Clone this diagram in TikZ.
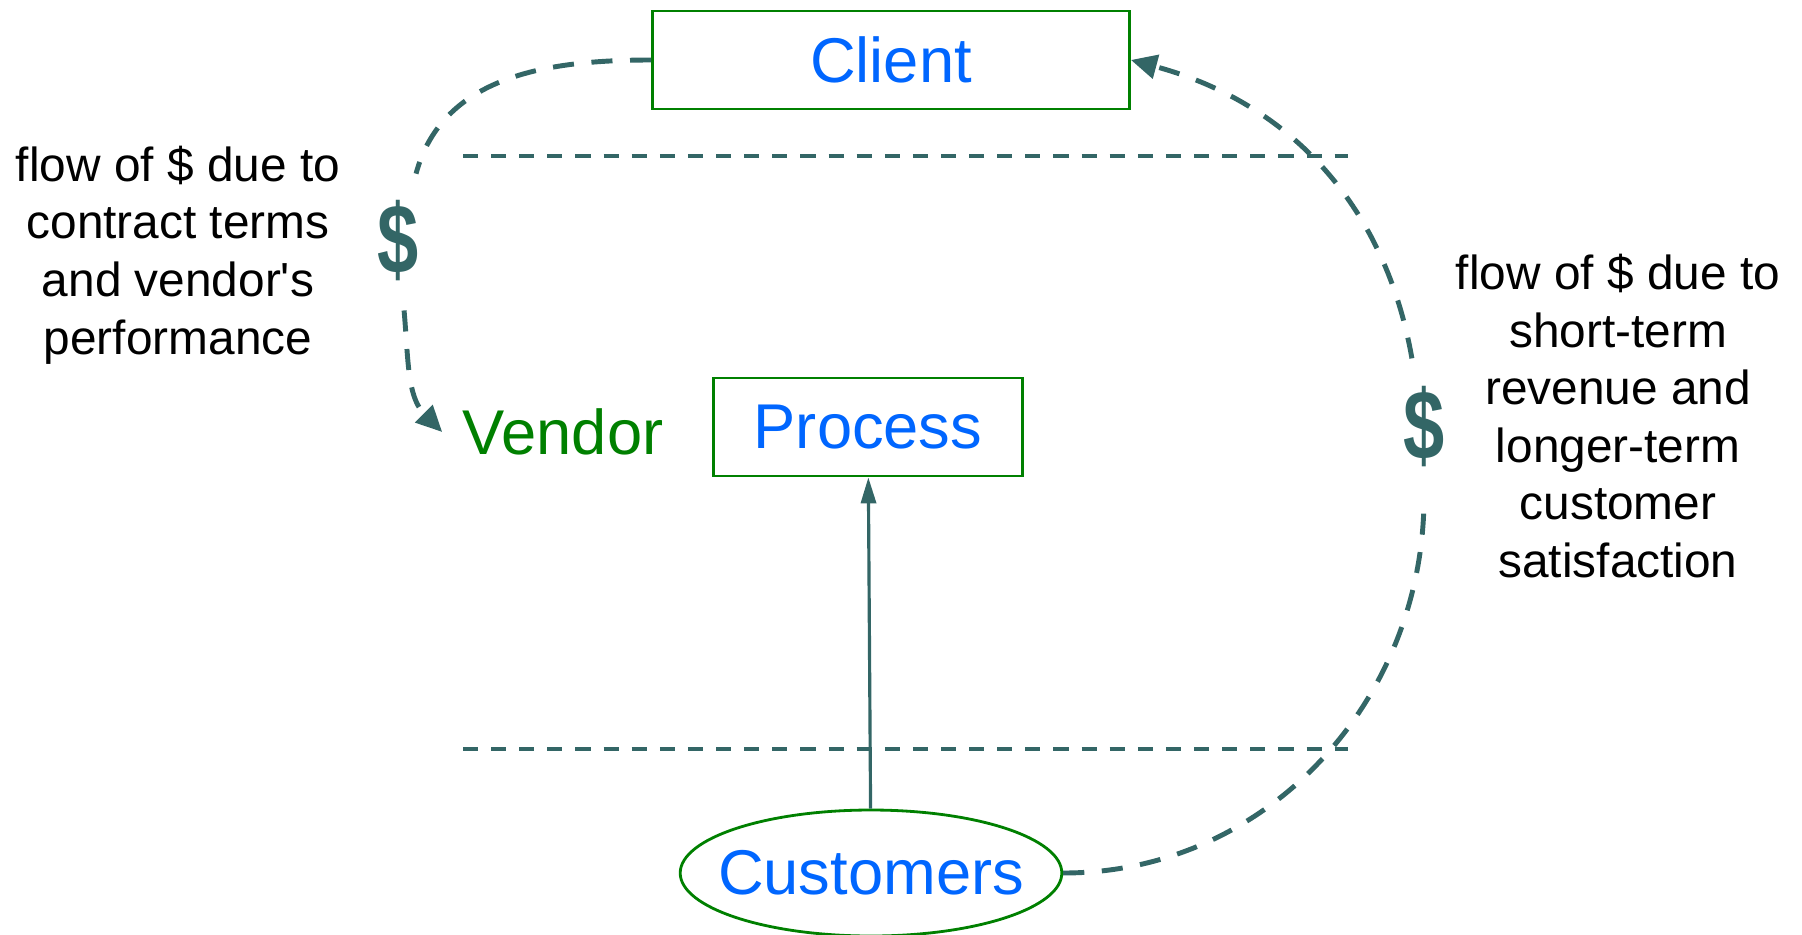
\documentclass[tikz,border=0pt]{standalone}
\usepackage{fontspec}
\setmainfont{Liberation Sans}
\usetikzlibrary{positioning,shapes.geometric,arrows.meta}

\definecolor{flowteal}{HTML}{336666}
\definecolor{boxgreen}{HTML}{008000}
\definecolor{nameblue}{HTML}{0066FF}

\begin{document}
\begin{tikzpicture}[
    party/.style={draw=boxgreen, line width=0.8pt, text=nameblue, font=\fontsize{18}{21}\selectfont, inner sep=0pt},
    money/.style={circle, minimum size=1.38cm, inner sep=0pt, text=flowteal, font=\fontsize{27}{30}\selectfont\bfseries},
    note/.style={align=center, font=\fontsize{13.6}{16.4}\selectfont},
    flow/.style={draw=flowteal, line width=1.4pt, dash pattern=on 6pt off 5pt, >={Triangle[length=7.4pt,width=6.8pt]}},
    divider/.style={draw=flowteal, line width=0.9pt, dash pattern=on 4.3pt off 3.7pt}
  ]
  \useasboundingbox (0,0) rectangle (18.02,9.34);

  % the three parties
  \node[party, minimum width=4.77cm, minimum height=0.98cm] (client) at (8.91,8.74) {Client};
  \node[party, minimum width=3.09cm, minimum height=0.98cm] (process) at (8.68,5.07) {Process};
  \node[party, ellipse, inner xsep=-0.18cm, minimum height=1.26cm] (customers) at (8.71,0.61) {Customers};
  \node[left=0.28cm of process, yshift=-0.05cm, inner sep=0.2cm, text=boxgreen, font=\fontsize{18}{21}\selectfont] (vendor) {Vendor};

  % money symbols sitting on the loops
  \node[money] (dolL) at (3.98,6.93) {\scalebox{0.78}[1.04]{\$}};
  \node[money] (dolR) at (14.24,5.07) {\scalebox{0.78}[1.04]{\$}};

  % side notes
  \node[note] (leftnote) at (1.78,6.79) {flow of \$ due to\\contract terms\\and vendor\textquotesingle s\\performance};
  \node[note] (rightnote) at (16.18,5.18) {flow of \$ due to\\short-term\\revenue and\\longer-term\\customer\\satisfaction};

  % horizontal separators
  \coordinate (topL) at (4.63,7.78);
  \coordinate (topR) at (13.48,7.78);
  \coordinate (botL) at (4.63,1.85);
  \coordinate (botR) at (13.48,1.85);
  \draw[divider] (topL) -- (topR);
  \draw[divider] (botL) -- (botR);

  % flows of money
  \draw[flow] (client.west) to[out=180,in=75] (dolL);
  \draw[flow, ->] (dolL) to[out=-85,in=135] (vendor.west);
  \draw[flow] (customers.east) to[out=0,in=-90] (dolR);
  \draw[flow, ->] (dolR) to[out=100,in=-15] (client.east);

  \draw[flowteal, line width=0.9pt, -{Triangle[length=7.4pt,width=4.3pt]}] (customers) -- (process);
\end{tikzpicture}
\end{document}
